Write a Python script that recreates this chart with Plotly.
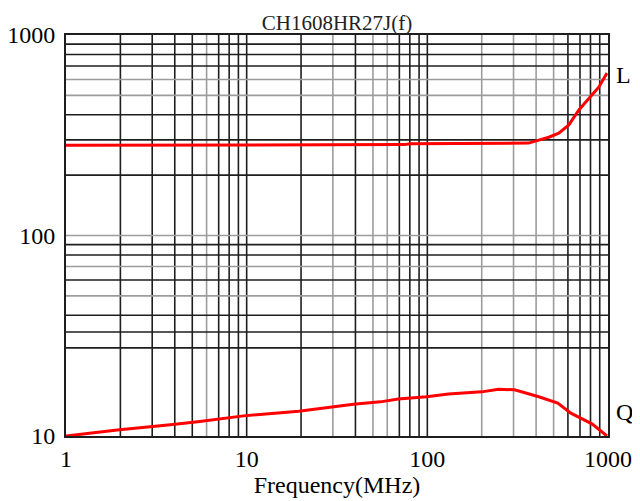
import plotly.graph_objects as go

# ---- data ----
freq_L = [1, 2, 5, 10, 20, 50, 75, 80, 100, 200, 300, 364, 414, 470, 534, 607, 690, 815, 891, 987]
L_vals = [282, 282, 282, 282, 282, 283, 284, 287, 287, 288, 288, 289, 299, 309, 324, 356, 423, 502, 551, 646]

freq_Q = [1, 1.92, 3.9, 5.5, 9.6, 19.4, 39, 55, 69, 99, 131, 200, 248, 304, 414, 527, 623, 815, 987]
Q_vals = [10.0, 10.7, 11.4, 11.8, 12.6, 13.3, 14.4, 14.8, 15.3, 15.7, 16.2, 16.6, 17.1, 17.0, 15.7, 14.6, 13.0, 11.5, 10.0]

x_ticks = [1, 10, 100, 1000]
y_ticks = [10, 100, 1000]

# grid values (dark and light lines as seen in the scan)
x_grid_dark = [2, 3, 4, 5, 7, 8, 9, 10, 20, 40, 70, 80, 90, 100, 600, 700, 800, 900]
x_grid_light = [6, 30, 50, 60, 200, 300, 400, 500]
y_grid_dark = [900, 800, 700, 400, 300, 200, 90, 80, 60, 40, 33, 27.5]
y_grid_light = [600, 500, 100, 70, 50]

title_text = "CH1608HR27J(f)"
x_title = "Frequency(MHz)"

FONT = "Liberation Serif, Times New Roman, serif"
DARK = "#1e1e1e"
LIGHT = "#9c9c9c"

fig = go.Figure()
fig.add_trace(go.Scatter(x=freq_L, y=L_vals, mode="lines", name="L",
                         line=dict(color="#ff0000", width=3), showlegend=False))
fig.add_trace(go.Scatter(x=freq_Q, y=Q_vals, mode="lines", name="Q",
                         line=dict(color="#ff0000", width=3), showlegend=False))

shapes = []
for v in x_grid_dark + x_grid_light:
    shapes.append(dict(type="line", xref="x", yref="paper", x0=v, x1=v,
                       y0=0, y1=1, layer="below",
                       line=dict(color=DARK if v in x_grid_dark else LIGHT, width=1.6)))
for v in y_grid_dark + y_grid_light:
    shapes.append(dict(type="line", xref="paper", yref="y", y0=v, y1=v,
                       x0=0, x1=1, layer="below",
                       line=dict(color=DARK if v in y_grid_dark else LIGHT, width=1.6)))

# page body has an 8px margin: figure is 632x493 so it ends at the window edge
fig.update_layout(
    width=632, height=493,
    margin=dict(l=58, r=32, t=27, b=65, autoexpand=False),
    paper_bgcolor="white", plot_bgcolor="white",
    font=dict(family=FONT, color="black", size=24),
    shapes=shapes,
    title=dict(text=title_text, x=0.5, xref="paper", y=1, yref="paper", yanchor="bottom",
               pad=dict(b=5), font=dict(family=FONT, size=21, color="#222")),
    annotations=[
        dict(text="L", xref="paper", x=1.0, xanchor="left", xshift=6,
             yref="y", y=2.80, yanchor="middle", showarrow=False,
             font=dict(family=FONT, size=24)),
        dict(text="Q", xref="paper", x=1.0, xanchor="left", xshift=6,
             yref="y", y=1.12, yanchor="middle", showarrow=False,
             font=dict(family=FONT, size=24)),
    ],
)
fig.update_xaxes(type="log", range=[0, 3], tickvals=x_ticks, ticktext=[str(v) for v in x_ticks],
                 showgrid=False, zeroline=False, showline=True, linecolor=DARK, linewidth=2,
                 mirror=True, ticks="", automargin=False, tickfont=dict(family=FONT, size=24),
                 title=dict(text=x_title, standoff=0, font=dict(family=FONT, size=24)))
fig.update_yaxes(type="log", range=[1, 3], tickvals=y_ticks, ticktext=[str(v) for v in y_ticks],
                 showgrid=False, zeroline=False, showline=True, linecolor=DARK, linewidth=2,
                 mirror=True, ticks="", automargin=False, ticklabelstandoff=4,
                 tickfont=dict(family=FONT, size=24))

fig.write_html("out.html")
